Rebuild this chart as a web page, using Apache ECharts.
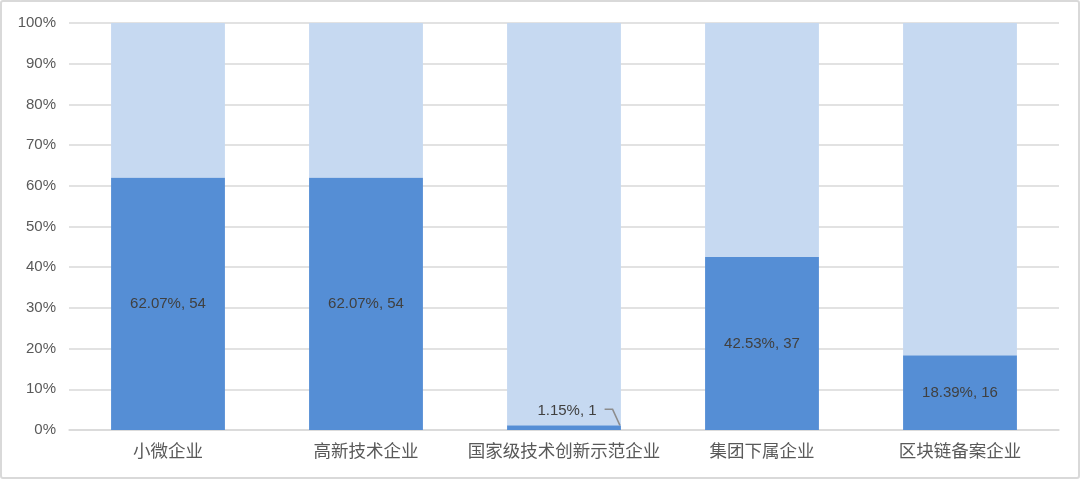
<!DOCTYPE html>
<html><head><meta charset="utf-8">
<script src="https://cdn.jsdelivr.net/npm/echarts@6/dist/echarts.min.js"></script>
<style>html,body{margin:0;padding:0;background:#fff}#c{width:1080px;height:479px;box-sizing:border-box;border:2px solid #d9d9d9;border-radius:3px}</style>
</head><body><div id="c"></div>
<script>
var categories = ['小微企业','高新技术企业','国家级技术创新示范企业','集团下属企业','区块链备案企业'];
var counts = [54, 54, 1, 37, 16];
var shares = [62.07, 62.07, 1.15, 42.53, 18.39];
var rest = shares.map(function(v){return +(100 - v).toFixed(2);});

var BAR_RATIO = 0.575;
var LABEL_DIST = 7;
var chart = echarts.init(document.getElementById('c'));
function fmt(p){return shares[p.dataIndex].toFixed(2)+'%, '+counts[p.dataIndex];}
var darkData = shares.map(function(v,i){
  if (i===2) return {value:v, label:{position:'top', distance:LABEL_DIST, offset:[3,0]}};
  return v;
});
chart.setOption({
  animation:false,
  grid:{left:67, right:19, top:21, bottom:47},
  xAxis:{type:'category', data:categories,
    axisLine:{lineStyle:{color:'#d9d9d9', width:1.5}}, axisTick:{show:false},
    axisLabel:{color:'#595959', fontSize:17.5, margin:12, interval:0, fontFamily:'Noto Sans CJK SC'}},
  yAxis:{type:'value', min:0, max:100, interval:10,
    axisLabel:{formatter:'{value}%', color:'#595959', fontSize:15, fontFamily:'Liberation Sans', margin:13},
    splitLine:{lineStyle:{color:'#d9d9d9', width:1.5}},
    axisLine:{show:false}, axisTick:{show:false}},
  series:[
    {type:'bar', stack:'a', barWidth:(BAR_RATIO*100)+'%', data:darkData,
      itemStyle:{color:'#558ed5'},
      label:{show:true, position:'inside', color:'#404040', fontSize:15, fontFamily:'Liberation Sans', formatter:fmt}
    },
    {type:'bar', stack:'a', data:rest, itemStyle:{color:'#c6d9f1'}}
  ]
});
// leader line for the small segment, positioned via the chart's own scales
(function(){
  var i = 2;
  var c = chart.convertToPixel({seriesIndex:0}, [i, shares[i]]);
  var c0 = chart.convertToPixel({seriesIndex:0}, [0, 0]);
  var c1 = chart.convertToPixel({seriesIndex:0}, [1, 0]);
  var band = c1[0]-c0[0];
  var barRight = c[0] + band*BAR_RATIO/2;
  var txt = fmt({dataIndex:i});
  var ctx = document.createElement('canvas').getContext('2d');
  ctx.font = '15px Liberation Sans';
  var tw = ctx.measureText(txt).width;
  var labelRight = c[0] + 3 + tw/2;
  var ly = c[1] - LABEL_DIST - 9;
  chart.setOption({graphic:[{type:'polyline', silent:true, z:100,
    shape:{points:[[labelRight+8, ly],[labelRight+16, ly],[barRight-1, c[1]]]},
    style:{stroke:'#8c8c8c', lineWidth:1.5, fill:null}}]});
})();
</script></body></html>
